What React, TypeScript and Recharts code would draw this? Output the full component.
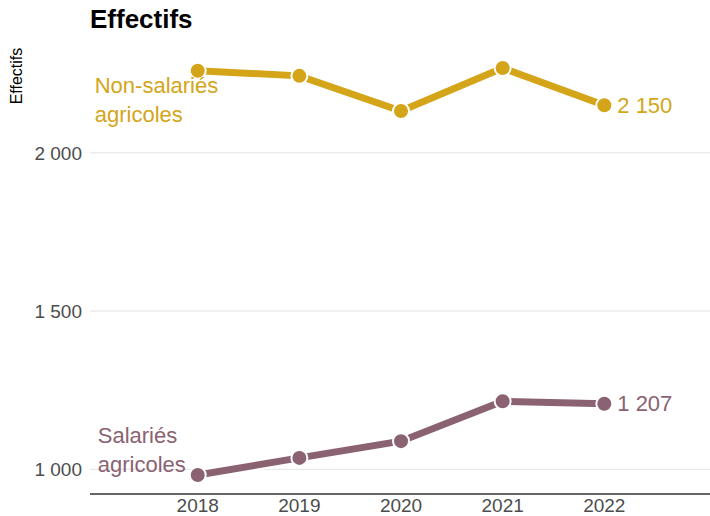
import React from "react";
import { LineChart, Line, XAxis, YAxis, CartesianGrid, LabelList } from "recharts";

const years = [2018, 2019, 2020, 2021, 2022];
const nonSalaries = [2259, 2243, 2132, 2268, 2150];
const salaries = [982, 1036, 1089, 1215, 1207];
const yTicks = [1000, 1500, 2000];

const GOLD = "#D4A519";
const MAUVE = "#8A6272";
const FONT = "'Liberation Sans', Arial, sans-serif";

const data = years.map((y, i) => ({ year: y, ns: nonSalaries[i], s: salaries[i] }));

const fmt = (v: number) => {
  const s = String(Math.round(v));
  return s.replace(/\B(?=(\d{3})+(?!\d))/g, " ");
};

const makeLabel = (color: string, lines: string[], dx: number, dy: number, lh: number) => (props: any) => {
  const { x, y, index } = props;
  const last = years.length - 1;
  if (index === last) {
    return (
      <text x={x + 13} y={y} dy="0.35em" fill={color} fontSize={22} fontFamily={FONT} textAnchor="start">
        {fmt(props.value)}
      </text>
    );
  }
  if (index === 0) {
    return (
      <text fill={color} fontSize={22} fontFamily={FONT} textAnchor="start">
        {lines.map((l, k) => (
          <tspan key={k} x={x + dx} y={y + dy + k * lh}>
            {l}
          </tspan>
        ))}
      </text>
    );
  }
  return null;
};

export default function App() {
  return (
    <div style={{ position: "absolute", left: 0, top: 0, width: 710, height: 516, fontFamily: FONT }}>
      <div
        style={{
          position: "absolute",
          left: 90,
          top: 4,
          fontSize: 26,
          fontWeight: "bold",
          color: "#000",
          lineHeight: "30px",
        }}
      >
        Effectifs
      </div>
      <div
        style={{
          position: "absolute",
          left: 17,
          top: 76,
          transform: "translate(-50%, -50%) rotate(-90deg)",
          fontSize: 16,
          color: "#000",
          whiteSpace: "nowrap",
        }}
      >
        Effectifs
      </div>
      <LineChart
        width={710}
        height={516}
        data={data}
        margin={{ top: 42, right: 0, bottom: 0, left: 0 }}
        style={{ position: "absolute", left: 0, top: 0 }}
      >
        <CartesianGrid
          horizontal={true}
          vertical={false}
          horizontalValues={yTicks}
          stroke="#e3e3e3"
          strokeWidth={1}
        />
        <XAxis
          dataKey="year"
          type="number"
          domain={[2016.94, 2023.04]}
          ticks={years}
          allowDataOverflow
          height={22}
          tickLine={false}
          axisLine={{ stroke: "#333", strokeWidth: 1.5 }}
          tick={{ fill: "#4d4d4d", fontSize: 19, fontFamily: FONT, dy: -3 }}
          interval={0}
        />
        <YAxis
          type="number"
          domain={[922, 2350]}
          ticks={yTicks}
          allowDataOverflow
          width={90}
          tickLine={false}
          axisLine={false}
          tickFormatter={fmt}
          tick={{ fill: "#4d4d4d", fontSize: 19, fontFamily: FONT }}
        />
        <Line dataKey="ns" stroke="#fff" strokeWidth={11} dot={false} isAnimationActive={false} />
        <Line
          dataKey="ns"
          stroke={GOLD}
          strokeWidth={7}
          dot={{ r: 8, fill: GOLD, stroke: "#fff", strokeWidth: 2 }}
          isAnimationActive={false}
        >
          <LabelList dataKey="ns" content={makeLabel(GOLD, ["Non-salariés", "agricoles"], -103, 22, 29)} />
        </Line>
        <Line dataKey="s" stroke="#fff" strokeWidth={11} dot={false} isAnimationActive={false} />
        <Line
          dataKey="s"
          stroke={MAUVE}
          strokeWidth={7}
          dot={{ r: 8, fill: MAUVE, stroke: "#fff", strokeWidth: 2 }}
          isAnimationActive={false}
        >
          <LabelList dataKey="s" content={makeLabel(MAUVE, ["Salariés", "agricoles"], -100, -32, 29)} />
        </Line>
      </LineChart>
    </div>
  );
}
